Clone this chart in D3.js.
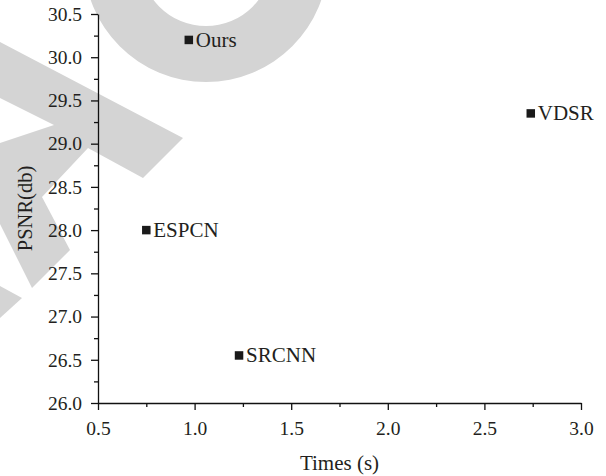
<!DOCTYPE html>
<html>
<head>
<meta charset="utf-8">
<script src="https://cdn.jsdelivr.net/npm/d3@7"></script>
<style>
  body { margin: 0; background: #fff; }
  svg { display: block; }
</style>
</head>
<body>
<svg id="chart" width="606" height="476"></svg>
<script>
"use strict"

// methods and their (runtime, psnr)
const methods = ["Ours", "VDSR", "ESPCN", "SRCNN"]
const times   = [0.97, 2.74, 0.75, 1.23]
const psnr    = [30.2, 29.35, 28.0, 26.55]

const xTicks = [0.5, 1.0, 1.5, 2.0, 2.5, 3.0]
const yTicks = [26.0, 26.5, 27.0, 27.5, 28.0, 28.5, 29.0, 29.5, 30.0, 30.5]

const W = 606, H = 476
const margin = {top: 14, right: 25, bottom: 73, left: 98}
const FONT = "'Liberation Serif', 'DejaVu Serif', serif"
const INK = "#231f20"

const svg = d3.select("#chart").attr("font-family", FONT)

// background watermark (gray strokes behind the chart)
const wm = svg.append("g").attr("fill", "#d4d4d4")
wm.append("path")
  .attr("d", d3.arc()({innerRadius: 66, outerRadius: 122, startAngle: 0, endAngle: 2 * Math.PI}))
  .attr("transform", "translate(206,-40)")
wm.append("polygon")
  .attr("points", "0,42 183,138 143,178 88,148 42,197 70,250 32,288 0,224 0,143 54,125 0,98")
wm.append("polygon")
  .attr("points", "0,286 22,298 0,318")

const x = d3.scaleLinear().domain([0.5, 3.0]).range([margin.left, W - margin.right])
const y = d3.scaleLinear().domain([26.0, 30.5]).range([H - margin.bottom, margin.top])

const minor = (ticks) => d3.pairs(ticks).map(([a, b]) => (a + b) / 2)

// minor ticks
svg.append("g")
   .attr("transform", `translate(0,${y(26.0)})`)
   .call(d3.axisBottom(x).tickValues(minor(xTicks)).tickSize(4).tickFormat(""))
   .call(g => g.select(".domain").remove())
   .selectAll("line").attr("stroke", "#111").attr("stroke-width", 1.3)

svg.append("g")
   .attr("transform", `translate(${x(0.5)},0)`)
   .call(d3.axisLeft(y).tickValues(minor(yTicks)).tickSize(4).tickFormat(""))
   .call(g => g.select(".domain").remove())
   .selectAll("line").attr("stroke", "#111").attr("stroke-width", 1.3)

// major axes
const xAxis = svg.append("g")
   .attr("transform", `translate(0,${y(26.0)})`)
   .call(d3.axisBottom(x).tickValues(xTicks).tickSize(7).tickSizeOuter(0).tickPadding(11).tickFormat(d3.format(".1f")))

const yAxis = svg.append("g")
   .attr("transform", `translate(${x(0.5)},0)`)
   .call(d3.axisLeft(y).tickValues(yTicks).tickSize(7).tickSizeOuter(0).tickPadding(9).tickFormat(d3.format(".1f")))

;[xAxis, yAxis].forEach(g => {
    g.attr("font-family", FONT).attr("font-size", 19.5)
    g.selectAll("path, line").attr("stroke", "#111").attr("stroke-width", 1.3)
    g.selectAll("text").attr("fill", INK)
})

// axis titles
svg.append("text")
   .attr("x", (x(0.5) + x(3.0)) / 2).attr("y", 470)
   .attr("text-anchor", "middle").attr("font-size", 21).attr("fill", INK)
   .text("Times (s)")

svg.append("text")
   .attr("transform", `translate(32,${(y(26.0) + y(30.5)) / 2}) rotate(-90)`)
   .attr("text-anchor", "middle").attr("font-size", 20.5).attr("fill", INK)
   .text("PSNR(db)")

// points
const data = methods.map((m, i) => ({name: m, t: times[i], p: psnr[i]}))
const pts = svg.append("g")

pts.selectAll("rect").data(data).enter().append("rect")
   .attr("x", d => x(d.t) - 4.25).attr("y", d => y(d.p) - 4.25)
   .attr("width", 8.5).attr("height", 8.5)
   .attr("fill", "#1a1a1a")

pts.selectAll("text").data(data).enter().append("text")
   .attr("x", d => x(d.t) + 7).attr("y", d => y(d.p) + 7)
   .attr("font-size", 21).attr("fill", INK)
   .text(d => d.name)
</script>
</body>
</html>
